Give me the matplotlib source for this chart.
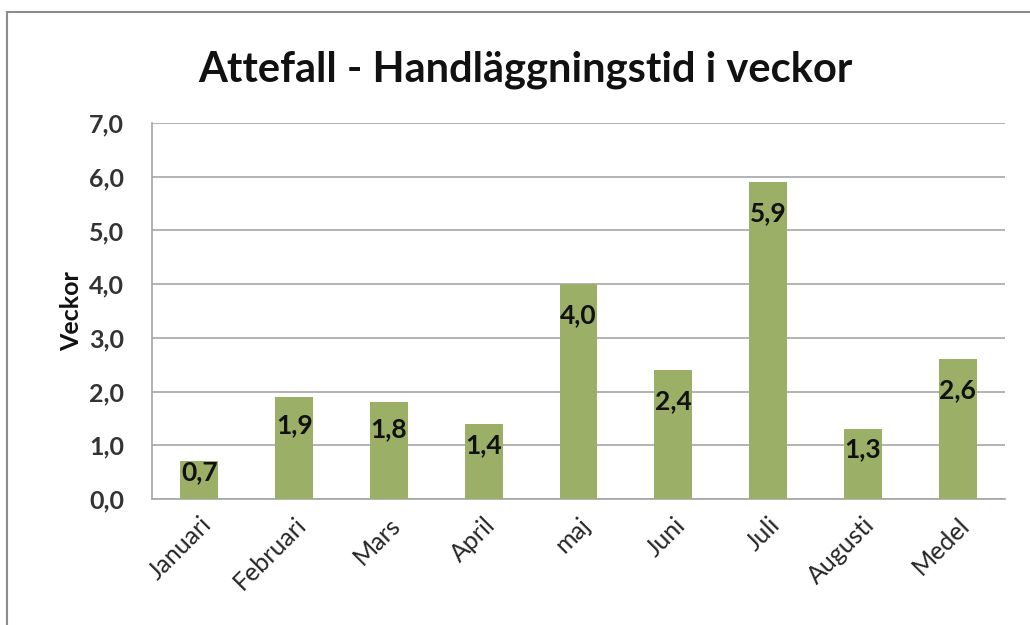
import matplotlib
matplotlib.use("Agg")
import matplotlib.pyplot as plt
from matplotlib.lines import Line2D
from matplotlib.ticker import FuncFormatter

# data
months = ["Januari", "Februari", "Mars", "April", "maj", "Juni", "Juli", "Augusti", "Medel"]
weeks = [0.7, 1.9, 1.8, 1.4, 4.0, 2.4, 5.9, 1.3, 2.6]
y_ticks = [0, 1, 2, 3, 4, 5, 6, 7]

plt.rcParams["font.family"] = ["Lato", "DejaVu Sans"]

fig = plt.figure(figsize=(10.30, 6.25), dpi=100)
ax = fig.add_axes([0.1476, 0.2016, 0.8281, 0.6016])

x = range(len(months))
bars = ax.bar(x, weeks, width=0.4, color="#9bb066", zorder=3)

# value labels, inside the top of each bar (clipped to the bar like the original)
for bar, xi, v in zip(bars, x, weeks):
    bar_pt = v / 7.0 * 0.6016 * 625 * 0.72
    off = -min(22, bar_pt * 0.28)
    t = ax.annotate(f"{v:.1f}".replace(".", ","), (xi, v), xytext=(0, off),
                    textcoords="offset points", ha="center", va="center",
                    fontsize=19, fontweight="bold", color="#111111", zorder=4)
    t.set_clip_path(bar)

ax.set_ylim(0, 7)
ax.set_xlim(-0.5, len(months) - 0.5)
ax.set_yticks(y_ticks)
ax.yaxis.set_major_formatter(FuncFormatter(lambda v, p: f"{v:.1f}".replace(".", ",")))
ax.grid(axis="y", color="#a6a6a6", linewidth=1.2, zorder=0)
ax.tick_params(axis="y", length=0, labelsize=18, labelcolor="#333333", pad=20)
ax.tick_params(axis="x", length=0, pad=10)
for lbl in ax.get_yticklabels():
    lbl.set_fontweight("bold")

ax.set_xticks(list(x))
ax.set_xticklabels(months, rotation=45, ha="right", rotation_mode="anchor",
                   fontsize=18, color="#262626")

for side in ["top", "right"]:
    ax.spines[side].set_visible(False)
ax.spines["left"].set_color("#a6a6a6")
ax.spines["bottom"].set_color("#a6a6a6")
ax.spines["left"].set_linewidth(1.2)
ax.spines["bottom"].set_linewidth(1.2)

ax.set_ylabel("Veckor", fontsize=18, fontweight="bold", color="#111111", labelpad=4)

fig.text(0.51, 0.888, "Attefall - Handläggningstid i veckor", ha="center", va="center",
         fontsize=30, fontweight="bold", color="#111111")

# chart border (left and top edge)
fig.add_artist(Line2D([0.007, 0.007], [0.0, 0.981], transform=fig.transFigure,
                      color="#8c8c8c", linewidth=1.5))
fig.add_artist(Line2D([0.007, 1.0], [0.981, 0.981], transform=fig.transFigure,
                      color="#8c8c8c", linewidth=1.5))

fig.savefig("out.png", dpi=100)
